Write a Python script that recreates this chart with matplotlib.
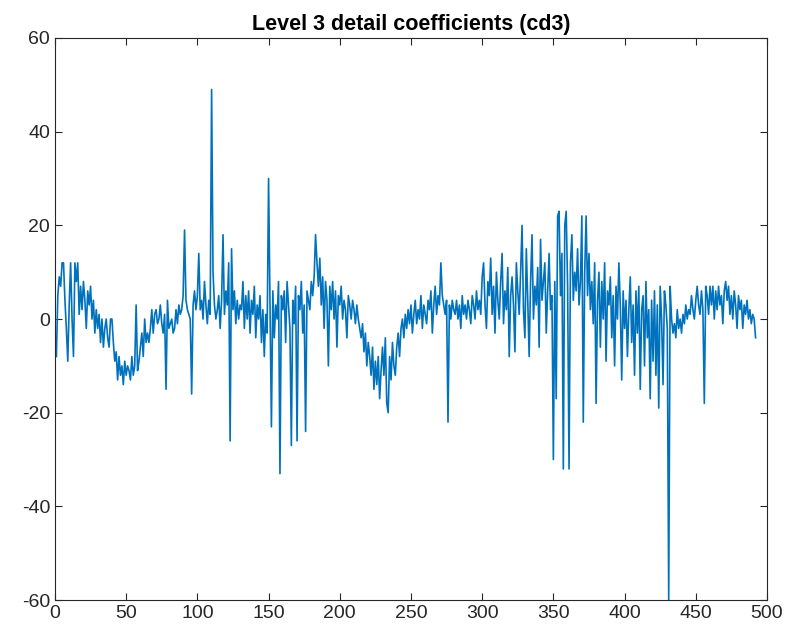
import numpy as np
import matplotlib.pyplot as plt

# level 3 detail coefficients
cd3 = [
    -8, 5, 9, 7, 12, 12, 4, -2, -9, 3,
    12, 0, -8, 12, 8, 12, 1, 7, 2, 8,
    4, -2, 6, 3, 7, 0, 4, -3, 2, -2,
    1, -5, 0, -6, -2, 0, -4, -6, 0, 0,
    -5, -9, -7, -13, -8, -12, -10, -14, -9, -12,
    -10, -11, -13, -8, -12, -10, 3, -11, -9, -6,
    -3, -8, 0, -5, -3, -5, -2, 2, -3, 1,
    2, -1, 0, 3, -1, -3, 1, -15, 4, -2,
    -1, 0, -3, -2, 2, -1, 3, 1, 2, 5,
    19, 4, 2, 1, 0, -16, 3, 6, 2, 5,
    14, 2, 4, 0, 8, 3, -1, 4, 1, 49,
    10, 3, 0, 2, 5, -2, 4, 18, 1, 6,
    3, 12, -26, 15, 2, 6, -1, 4, 0, 3,
    2, 8, -2, 5, 0, 6, -3, 4, 1, 7,
    -4, 3, 0, 5, -5, 2, -8, 1, -3, 30,
    4, -23, 6, -4, 3, 0, 8, -33, 5, 2,
    6, -5, 8, 3, -2, -27, 4, -1, 7, -26,
    5, 2, 8, -3, 3, -24, 6, 4, 2, 8,
    5, 9, 18, 12, 7, 13, 3, 9, -2, 8,
    4, -10, 7, 2, 8, 0, 6, -6, 5, 3,
    7, 0, 4, 2, -4, 5, 3, 0, 4, 2,
    -1, 3, 0, -2, -4, -1, -7, -3, -10, -5,
    -8, -12, -6, -15, -9, -14, -8, -17, -11, -6,
    -12, -4, -18, -20, -8, -13, -5, -10, -12, -6,
    -3, -8, -2, 0, -4, 1, -2, 2, -1, 3,
    -3, 1, 4, -1, 2, 0, 5, -2, 3, 1,
    -1, 4, 2, 6, -3, 3, 7, 1, 5, 3,
    12, 5, 3, 1, 4, -22, 3, 0, 4, 2,
    1, 4, 0, 3, -2, 5, 1, 3, 0, 4,
    2, -1, 5, 3, 0, 6, 2, 4, 1, 9,
    12, 3, -2, 8, 5, 13, 1, 7, -3, 10,
    4, 0, 8, 14, -1, 6, 2, 11, -8, 5,
    9, 3, -7, 12, 6, 1, 10, 20, 2, -4,
    15, 4, -8, 8, 18, 0, 7, 3, 11, -6,
    17, 4, 8, 12, -3, 6, 14, 2, 5, -30,
    8, -17, 22, 23, 5, 14, -32, 20, 23, 7,
    -32, 12, 18, 4, 10, 6, 15, 3, 8, 22,
    -22, 10, 22, 5, 14, 2, 8, -1, 12, -18,
    4, 10, -6, 8, 0, 12, -9, 6, 3, 9,
    -4, 5, -10, 7, 0, 12, 3, -13, 6, -2,
    4, -8, 2, 9, -5, 3, -12, 6, -3, 7,
    -15, 2, 5, -10, 8, -4, 2, -17, 4, -9,
    6, -12, 3, -19, 7, 0, -14, 6, 3, -2,
    -60, 7, 0, -3, -1, -4, 2, -2, 0, -3,
    1, -1, 3, 0, 2, 1, 5, 2, 0, 4,
    7, 3, 1, 6, 2, -18, 7, 5, 1, 7,
    3, 7, 0, 6, 2, 7, 3, 5, -1, 6,
    8, 4, 7, 1, 5, 0, 6, 3, -2, 5,
    2, 4, -2, 3, 1, 4, 0, 2, -1, 1,
    0, -4,
]
x_ticks = list(range(0, 501, 50))
y_ticks = list(range(-60, 61, 20))

text_color = "#262626"
plt.rcParams["font.family"] = ["Liberation Sans", "DejaVu Sans"]
plt.rcParams["axes.unicode_minus"] = False

fig = plt.figure(figsize=(7.92, 6.33), dpi=100)
ax = fig.add_axes([0.0694, 0.052, 0.899, 0.888])

n = np.arange(1, len(cd3) + 1)
ax.plot(n, cd3, color="#0072BD", linewidth=1.2)

ax.set_xlim(0, 500)
ax.set_ylim(-60, 60)
ax.set_xticks(x_ticks)
ax.set_yticks(y_ticks)
ax.tick_params(direction="in", top=True, right=True, length=5,
               labelsize=14, colors=text_color, width=0.8)
for lbl in ax.get_xticklabels() + ax.get_yticklabels():
    lbl.set_color(text_color)
for s in ax.spines.values():
    s.set_color(text_color)
    s.set_linewidth(0.8)

ax.set_title("Level 3 detail coefficients (cd3)", fontsize=15.5,
             fontweight="bold", color="black", pad=6)

fig.savefig("out.png", dpi=100)
